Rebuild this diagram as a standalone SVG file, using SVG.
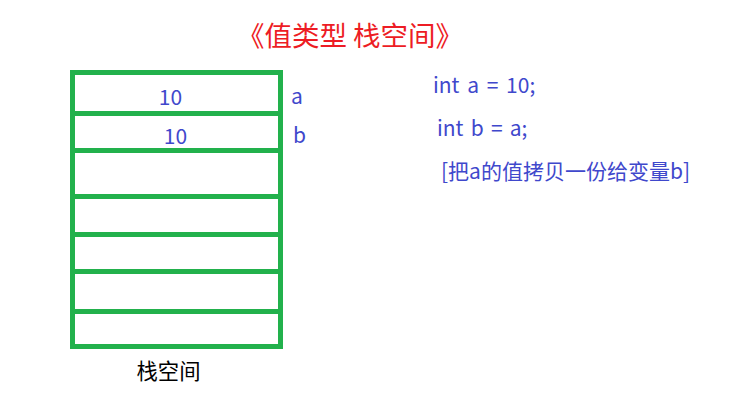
<svg xmlns="http://www.w3.org/2000/svg" width="745" height="411" viewBox="0 0 745 411">
<style>
.t{font-family:"Microsoft YaHei","Noto Sans CJK SC","Noto Sans",sans-serif}
.blue{fill:#3f48cc;font-size:21px}
.cell{fill:none;stroke:#22b14c;stroke-width:5}
</style>
<rect width="745" height="411" fill="#ffffff"/>
<g id="title"><text class="t" x="350" y="46" text-anchor="middle" font-size="27.5" fill="#ed1c24">《值类型 栈空间》</text></g>
<g id="stack">
<rect class="cell" x="72.5" y="72.5" width="208" height="274"/>
<line class="cell" x1="72.5" y1="113.5" x2="280.5" y2="113.5"/>
<line class="cell" x1="72.5" y1="150.5" x2="280.5" y2="150.5"/>
<line class="cell" x1="72.5" y1="196.5" x2="280.5" y2="196.5"/>
<line class="cell" x1="72.5" y1="234.5" x2="280.5" y2="234.5"/>
<line class="cell" x1="72.5" y1="271.5" x2="280.5" y2="271.5"/>
<line class="cell" x1="72.5" y1="311.5" x2="280.5" y2="311.5"/>
<text class="t blue" x="170.5" y="105" text-anchor="middle">10</text>
<text class="t blue" x="175.5" y="144" text-anchor="middle">10</text>
<text class="t blue" x="291" y="104">a</text>
<text class="t blue" x="293" y="143">b</text>
<text class="t" x="168.5" y="379" text-anchor="middle" font-size="21.3" fill="#000">栈空间</text>
</g>
<g id="code">
<text class="t blue" x="433" y="93" word-spacing="3">int a = 10;</text>
<text class="t blue" x="437" y="136" word-spacing="2.5">int b = a;</text>
<text class="t blue" x="441" y="179" font-size="21.8">[把a的值拷贝一份给变量b]</text>
</g>
</svg>
